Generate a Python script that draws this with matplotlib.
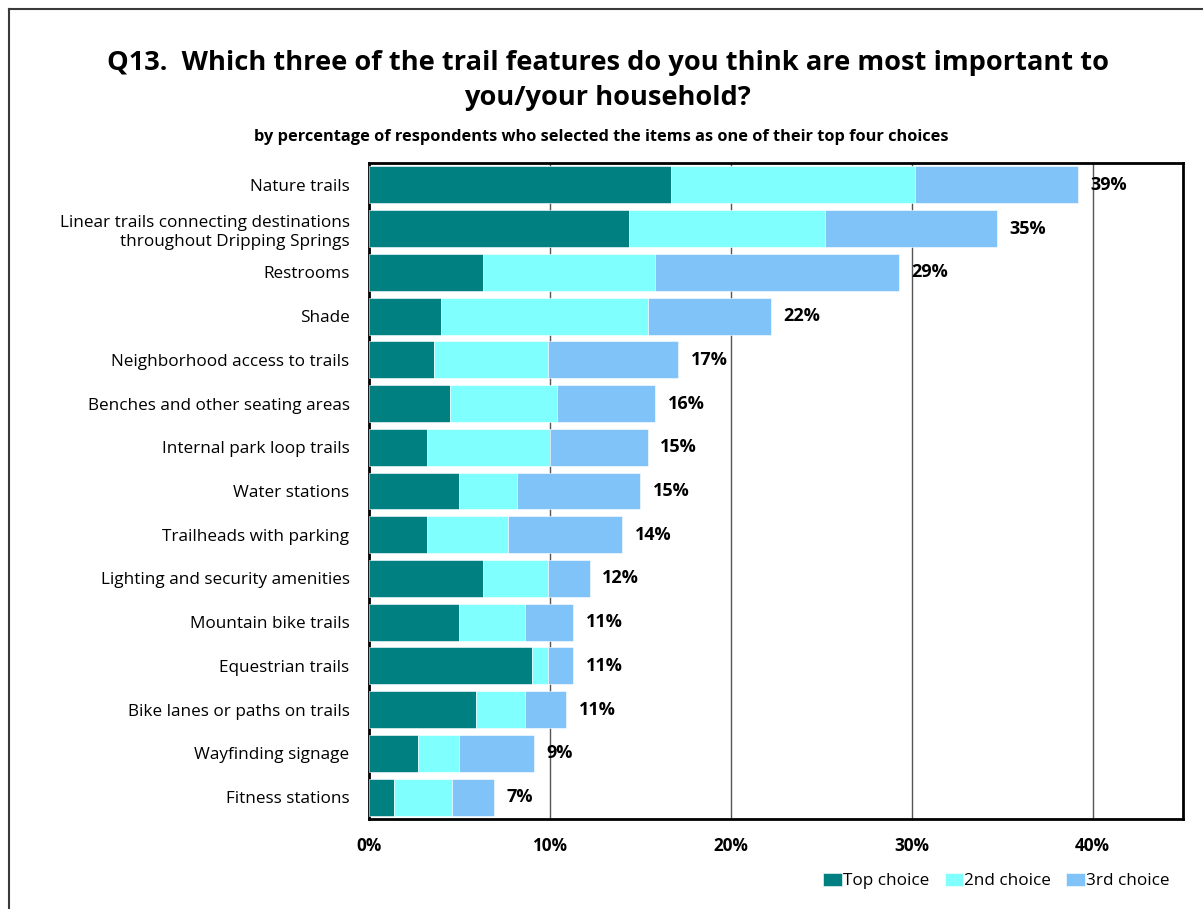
import matplotlib
matplotlib.use("Agg")
import matplotlib.pyplot as plt
from matplotlib.lines import Line2D
from matplotlib.ticker import FuncFormatter

plt.rcParams['font.family'] = ['Open Sans', 'DejaVu Sans']

categories = [
    "Nature trails",
    "Linear trails connecting destinations\nthroughout Dripping Springs",
    "Restrooms",
    "Shade",
    "Neighborhood access to trails",
    "Benches and other seating areas",
    "Internal park loop trails",
    "Water stations",
    "Trailheads with parking",
    "Lighting and security amenities",
    "Mountain bike trails",
    "Equestrian trails",
    "Bike lanes or paths on trails",
    "Wayfinding signage",
    "Fitness stations",
]
top_choice = [16.7, 14.4, 6.3, 4.0, 3.6, 4.5, 3.2, 5.0, 3.2, 6.3, 5.0, 9.0, 5.9, 2.7, 1.4]
second_choice = [13.5, 10.8, 9.5, 11.4, 6.3, 5.9, 6.8, 3.2, 4.5, 3.6, 3.6, 0.9, 2.7, 2.3, 3.2]
third_choice = [9.0, 9.5, 13.5, 6.8, 7.2, 5.4, 5.4, 6.8, 6.3, 2.3, 2.7, 1.4, 2.3, 4.1, 2.3]
series_names = ["Top choice", "2nd choice", "3rd choice"]
colors = ["#008080", "#80FFFF", "#80C3F8"]
x_ticks = [0, 10, 20, 30, 40]

fig = plt.figure(figsize=(12.03, 9.09), dpi=100)
ax = fig.add_axes([0.3067, 0.099, 0.9834 - 0.3067, 0.8207 - 0.099])

# outer frame of the figure (left and top edges)
fx = 8.5 / 1203
fy = 1 - 8.5 / 909
fig.add_artist(Line2D([fx, fx], [0, fy], transform=fig.transFigure, color="#3a3a3a", linewidth=1.5))
fig.add_artist(Line2D([fx, 1], [fy, fy], transform=fig.transFigure, color="#3a3a3a", linewidth=1.5))

y = list(range(len(categories)))
left = [0.0] * len(categories)
for vals, name, col in zip([top_choice, second_choice, third_choice], series_names, colors):
    ax.barh(y, vals, left=left, height=0.845, color=col, label=name,
            edgecolor="white", linewidth=0.4, zorder=3)
    left = [l + v for l, v in zip(left, vals)]

for yi, total in zip(y, left):
    ax.text(total + 0.7, yi, f"{round(total):d}%", va="center", ha="left",
            fontsize=13, fontweight="bold", zorder=4)

ax.set_xlim(0, 45)
ax.set_ylim(len(categories) - 0.5, -0.5)
ax.set_xticks(x_ticks)
ax.xaxis.set_major_formatter(FuncFormatter(lambda v, p: f"{v:.0f}%"))
ax.set_yticks(y)
ax.set_yticklabels(categories, fontsize=12.3, linespacing=1.25)
for lbl in ax.get_xticklabels():
    lbl.set_fontweight("bold")
    lbl.set_fontsize(12.3)
ax.tick_params(axis="x", length=0, pad=13)
ax.tick_params(axis="y", length=0, pad=14)
ax.grid(axis="x", color="#555555", linewidth=1, zorder=0)
ax.set_axisbelow(True)
for sp in ax.spines.values():
    sp.set_linewidth(2)
    sp.set_color("black")

fig.text(0.505, 0.911, "Q13.  Which three of the trail features do you think are most important to\nyou/your household?",
         ha="center", va="center", fontsize=19.6, fontweight="bold", linespacing=1.45)
fig.text(0.5, 0.849, "by percentage of respondents who selected the items as one of their top four choices",
         ha="center", va="center", fontsize=11.8, fontweight="bold")

leg = fig.legend(loc="center right", bbox_to_anchor=(0.985, 0.031), ncol=3, frameon=False,
                 fontsize=12.3, handlelength=1.1, handleheight=0.8, handletextpad=0.05,
                 columnspacing=0.9)

fig.savefig("out.png", dpi=100)
